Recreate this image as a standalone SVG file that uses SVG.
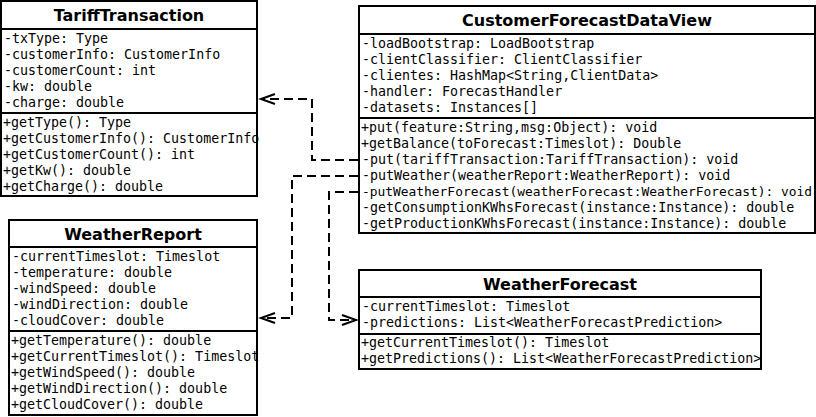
<svg xmlns="http://www.w3.org/2000/svg" width="816" height="417" viewBox="0 0 816 417">
<style>
.box{fill:#fff;stroke:#000;stroke-width:2}
.sep{stroke:#000;stroke-width:2}
.t{font-family:"DejaVu Sans",sans-serif;font-weight:bold;font-size:16px;text-anchor:middle;fill:#000}
.m{font-family:"DejaVu Sans Mono",monospace;font-size:13.3px;fill:#000}
.c{fill:none;stroke:#000;stroke-width:2;stroke-dasharray:9 5}
.a{fill:none;stroke:#000;stroke-width:2}
</style>
<rect width="816" height="417" fill="#fff"/>
<g id="TariffTransaction">
<rect class="box" x="1" y="1" width="256" height="195"/>
<line class="sep" x1="1" y1="29" x2="257" y2="29"/>
<line class="sep" x1="1" y1="113" x2="257" y2="113"/>
<text class="t" x="129" y="21">TariffTransaction</text>
<text class="m" x="4" y="43">-txType: Type</text>
<text class="m" x="4" y="59">-customerInfo: CustomerInfo</text>
<text class="m" x="4" y="75">-customerCount: int</text>
<text class="m" x="4" y="91">-kw: double</text>
<text class="m" x="4" y="107">-charge: double</text>
<text class="m" x="3" y="127">+getType(): Type</text>
<text class="m" x="3" y="143">+getCustomerInfo(): CustomerInfo</text>
<text class="m" x="3" y="159">+getCustomerCount(): int</text>
<text class="m" x="3" y="175">+getKw(): double</text>
<text class="m" x="3" y="191">+getCharge(): double</text>
</g>
<g id="CustomerForecastDataView">
<rect class="box" x="359" y="6" width="456" height="227"/>
<line class="sep" x1="359" y1="34" x2="815" y2="34"/>
<line class="sep" x1="359" y1="118" x2="815" y2="118"/>
<text class="t" x="587" y="26">CustomerForecastDataView</text>
<text class="m" x="362" y="48">-loadBootstrap: LoadBootstrap</text>
<text class="m" x="362" y="64">-clientClassifier: ClientClassifier</text>
<text class="m" x="362" y="80">-clientes: HashMap&lt;String,ClientData&gt;</text>
<text class="m" x="362" y="96">-handler: ForecastHandler</text>
<text class="m" x="362" y="112">-datasets: Instances[]</text>
<text class="m" x="361" y="132">+put(feature:String,msg:Object): void</text>
<text class="m" x="361" y="148">+getBalance(toForecast:Timeslot): Double</text>
<text class="m" x="362" y="164">-put(tariffTransaction:TariffTransaction): void</text>
<text class="m" x="362" y="180">-putWeather(weatherReport:WeatherReport): void</text>
<text class="m" x="362" y="196" style="font-size:12.9px">-putWeatherForecast(weatherForecast:WeatherForecast): void</text>
<text class="m" x="362" y="212">-getConsumptionKWhsForecast(instance:Instance): double</text>
<text class="m" x="362" y="228">-getProductionKWhsForecast(instance:Instance): double</text>
</g>
<g id="WeatherReport">
<rect class="box" x="9" y="220" width="248" height="195"/>
<line class="sep" x1="9" y1="247" x2="257" y2="247"/>
<line class="sep" x1="9" y1="331" x2="257" y2="331"/>
<text class="t" x="133" y="240">WeatherReport</text>
<text class="m" x="12" y="261">-currentTimeslot: Timeslot</text>
<text class="m" x="12" y="277">-temperature: double</text>
<text class="m" x="12" y="293">-windSpeed: double</text>
<text class="m" x="12" y="309">-windDirection: double</text>
<text class="m" x="12" y="325">-cloudCover: double</text>
<text class="m" x="11" y="345">+getTemperature(): double</text>
<text class="m" x="11" y="361">+getCurrentTimeslot(): Timeslot</text>
<text class="m" x="11" y="377">+getWindSpeed(): double</text>
<text class="m" x="11" y="393">+getWindDirection(): double</text>
<text class="m" x="11" y="409">+getCloudCover(): double</text>
</g>
<g id="WeatherForecast">
<rect class="box" x="359" y="270" width="402" height="99"/>
<line class="sep" x1="359" y1="297" x2="761" y2="297"/>
<line class="sep" x1="359" y1="334" x2="761" y2="334"/>
<text class="t" x="560" y="290">WeatherForecast</text>
<text class="m" x="362" y="311">-currentTimeslot: Timeslot</text>
<text class="m" x="362" y="327">-predictions: List&lt;WeatherForecastPrediction&gt;</text>
<text class="m" x="361" y="347">+getCurrentTimeslot(): Timeslot</text>
<text class="m" x="361" y="363">+getPredictions(): List&lt;WeatherForecastPrediction&gt;</text>
</g>
<g id="connectors">
<path class="c" d="M358 160 H312 V99 H262"/>
<path class="a" d="M275 94 L261 99 L275 104"/>
<path class="c" d="M358 176 H292 V318 H262"/>
<path class="a" d="M275 313 L261 318 L275 323"/>
<path class="c" d="M358 192 H329 V320 H356"/>
<path class="a" d="M342 315 L356 320 L342 325"/>
</g>
</svg>
